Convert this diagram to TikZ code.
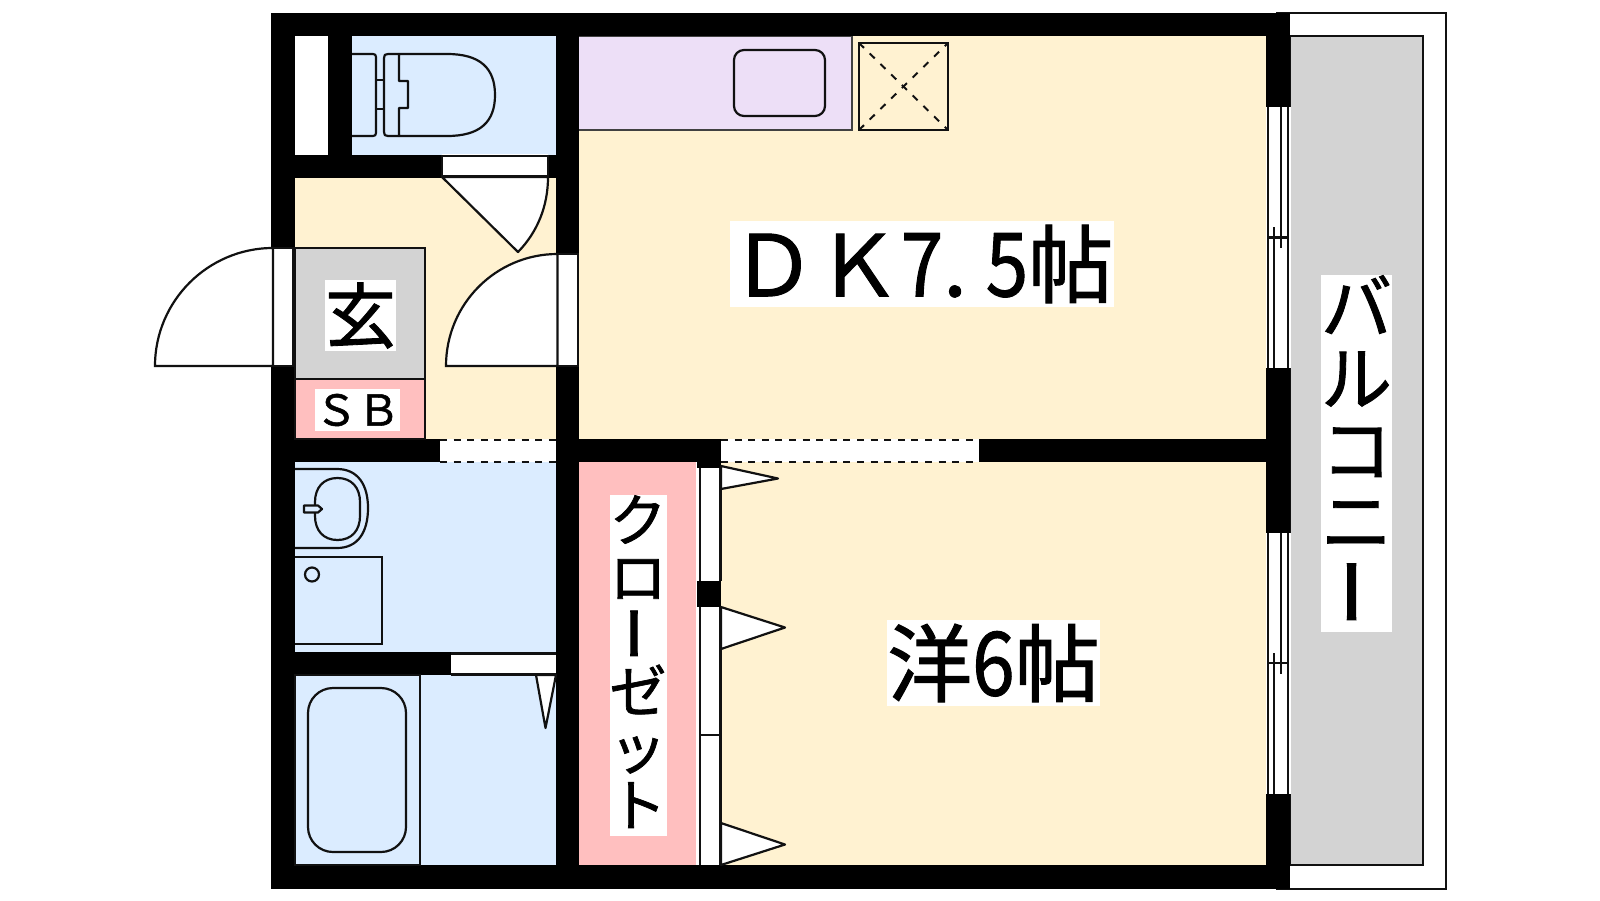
\documentclass[tikz,border=0pt]{standalone}
\usepackage{fontspec}
\usepackage{graphicx}
\newfontfamily\cjk[FakeBold=1.2]{Noto Sans CJK JP}
\newcommand{\vl}[1]{\rule[-.12em]{0pt}{.88em}\smash{#1}}
\newcommand{\vbar}{\kern.28em\raisebox{.115em}{\rotatebox[origin=c]{90}{\scalebox{1}[1.25]{ー}}}}
\newcommand{\hwd}[1]{\makebox[.5em]{\scalebox{.9}[1.04]{#1}}}
\definecolor{yel}{HTML}{FFF2D1}
\definecolor{blu}{HTML}{DBECFF}
\definecolor{pur}{HTML}{EDDFF7}
\definecolor{pnk}{HTML}{FFBFBF}
\definecolor{gry}{HTML}{D3D3D3}
\definecolor{ink}{HTML}{111111}
\tikzset{
  wall/.style={fill=black,draw=none},
  room/.style={draw=none},
  fix/.style={draw=ink,line width=2.2pt},
  fixr/.style={draw=ink,line width=2.2pt,line join=round},
  opening/.style={fill=white,draw=none},
  slide/.style={draw=ink,line width=2pt,dash pattern=on 7pt off 6.6pt},
  dlbl/.style={fill=white,inner sep=0pt,text=black,align=center}
}
\begin{document}
\begin{tikzpicture}[x=1pt,y=-1pt]
\useasboundingbox (0,0) rectangle (1600,900);
\fill[white] (0,0) rectangle (1600,900);
% balcony
\draw[draw=ink,line width=2pt,fill=white] (1277,13) rectangle (1446,889);
\draw[draw=ink,line width=2pt,fill=gry] (1290,36) rectangle (1423,865);
% rooms
\fill[blu] (352,36) rectangle (556,155);
\fill[yel] (295,178) rectangle (556,439);
\fill[yel] (579,36) rectangle (1266,439);
\fill[yel] (721,462) rectangle (1266,865);
\fill[blu] (295,462) rectangle (556,652);
\fill[blu] (295,675) rectangle (556,865);
\fill[pnk] (579,462) rectangle (696,865);
% kitchen counter
\fill[pur] (579,36) rectangle (852,130);
\draw[draw=ink!80,line width=1.8pt] (579,36) -- (852,36) -- (852,130) -- (579,130);
% walls
\fill[wall] (271,13) rectangle (1290,36);
\fill[wall] (271,865) rectangle (1290,889);
\fill[wall] (271,13) rectangle (295,889);
\fill[wall] (1266,13) rectangle (1290,889);
\fill[wall] (328,36) rectangle (352,155);
\fill[wall] (295,155) rectangle (556,178);
\fill[wall] (556,13) rectangle (579,889);
\fill[wall] (271,439) rectangle (1290,462);
\fill[wall] (697,462) rectangle (721,468);
\fill[wall] (295,652) rectangle (451,675);
% front door
\fill[opening] (271,248) rectangle (295,366);
\draw[fix,fill=white] (273,248) .. controls (208,248) and (155,301) .. (155,366) -- (273,366) -- cycle;
\draw[fix] (273,248) -- (273,366) (293.5,248) -- (293.5,366) (273,248) -- (295,248) (273,366) -- (295,366);
% genkan and shoe box
\draw[fix,fill=gry] (295,248) rectangle (425,379);
\draw[fix,fill=pnk] (295,379) rectangle (425,439);
% inner door to DK
\fill[opening] (556,254) rectangle (579,365);
\draw[fix,fill=white] (557.5,254) .. controls (496,254) and (446,304) .. (446,366) -- (557.5,366) -- cycle;
\draw[fix] (557.5,254) -- (578,254) -- (578,366) -- (557.5,366);
% toilet door
\fill[opening] (442,153.5) rectangle (548,177);
\draw[fix] (442,156) rectangle (548,176.5);
\draw[fixr,fill=white] (442,177) -- (518,252) .. controls (537.5,232) and (548,206) .. (548,177) -- cycle;
% hall sliding gap
\fill[opening] (440,439) rectangle (556,462);
\draw[slide] (440,439.5) -- (556,439.5) (440,461.5) -- (556,461.5);
% DK / bedroom sliding gap
\fill[opening] (721,439) rectangle (979,462);
\draw[slide] (721,439.5) -- (979,439.5) (721,461.5) -- (979,461.5);
% closet doors
\fill[opening] (697,468) rectangle (721,865);
\fill[wall] (697,581) rectangle (721,607);
\draw[fix] (700,468) -- (700,581) (720.5,468) -- (720.5,581);
\draw[fix] (700,607) -- (700,865) (720.5,607) -- (720.5,865) (700,735) -- (720.5,735);
\draw[fixr,fill=white] (721,466) -- (778,478.5) -- (721,489) -- cycle;
\draw[fixr,fill=white] (721,607) -- (785,627.5) -- (721,649) -- cycle;
\draw[fixr,fill=white] (721,823) -- (785,844.5) -- (721,865) -- cycle;
% bath door
\fill[opening] (451,653) rectangle (556,675);
\draw[fix] (451,653.5) -- (556,653.5) (451,674.5) -- (556,674.5);
\draw[fixr,fill=white] (536,675) -- (545.5,728) -- (556,675) -- cycle;
% toilet
\draw[fixr] (352,54) -- (373,54) .. controls (375,54) and (376,55) .. (376,57) -- (376,133) .. controls (376,135) and (375,136) .. (373,136) -- (352,136);
\draw[fix] (376,80) -- (384,80) (376,109) -- (384,109);
\draw[fixr] (399,54) -- (447,54) .. controls (480,54) and (495,68) .. (495,95) .. controls (495,122) and (480,136) .. (447,136) -- (399,136) -- (399,108) -- (408,108) -- (408,81) -- (399,81) -- cycle;
\draw[fixr] (399,54) -- (388,54) .. controls (385,54) and (384,55) .. (384,58) -- (384,132) .. controls (384,135) and (385,136) .. (388,136) -- (399,136);
% kitchen sink and vent
\draw[fix,rounded corners=10pt] (734,50) rectangle (825,116);
\draw[draw=ink,line width=2.6pt] (859,43) rectangle (948,130);
\draw[draw=ink,line width=2pt,dash pattern=on 7pt off 8pt] (859,43) -- (948,130);
\draw[draw=ink,line width=2pt,dash pattern=on 7pt off 8pt] (859,130) -- (948,43);
% wash basin
\draw[fixr] (295,469) -- (337,469) .. controls (358,469) and (368,485) .. (368,508) .. controls (368,532) and (358,548) .. (337,548) -- (295,548);
\draw[fixr] (337.5,478) .. controls (352,478) and (360,488) .. (360,502) -- (360,516) .. controls (360,530) and (352,540) .. (337.5,540) .. controls (323,540) and (315,530) .. (315,516) -- (315,502) .. controls (315,488) and (323,478) .. (337.5,478) -- cycle;
\draw[fixr,fill=blu] (304,505.5) -- (318,505.5) -- (322,509) -- (318,512.5) -- (304,512.5) -- cycle;
% washing machine
\draw[fix] (295,557) -- (382,557) -- (382,644) -- (295,644);
\draw[fix] (312,574.5) circle[radius=7];
% bath
\draw[fix] (295,675) rectangle (420,865);
\draw[fix,rounded corners=25pt] (308,688) rectangle (406,852);
% windows
\fill[opening] (1266,107) rectangle (1291,368);
\draw[fix] (1268,107) -- (1268,368) (1288,107) -- (1288,368) (1268,237.5) -- (1288,237.5) (1274,227) -- (1274,368) (1281,107) -- (1281,248);
\fill[opening] (1266,533) rectangle (1291,794);
\draw[fix] (1268,533) -- (1268,794) (1288,533) -- (1288,794) (1268,663) -- (1288,663) (1274,653) -- (1274,794) (1281,533) -- (1281,674);
% labels
\node[dlbl,minimum width=384pt,minimum height=86pt,font=\fontsize{85}{85}\selectfont\cjk] (dk) at (922,264) {ＤＫ\hwd{7}\makebox[.5em][l]{.}\hwd{5}帖};
\node[dlbl,minimum width=213pt,minimum height=86pt,font=\fontsize{85}{85}\selectfont\cjk] (you) at (993.5,663) {洋\hwd{6}帖};
\node[dlbl,minimum width=71pt,minimum height=71pt,font=\fontsize{71}{71}\selectfont\cjk] (gen) at (360.5,315.5) {玄};
\node[dlbl,minimum width=85pt,minimum height=42pt,font=\fontsize{42.5}{42.5}\selectfont\cjk] (sb) at (357.5,410) {ＳＢ};
\node[dlbl,minimum width=56pt,minimum height=341pt,font=\fontsize{57}{57}\selectfont\cjk] (clo) at (638,665.5) {\vl{ク}\\\vl{ロ}\\\vl{\vbar}\\\vl{ゼ}\\\vl{ッ}\\\vl{ト}};
\node[dlbl,minimum width=71pt,minimum height=357pt,font=\fontsize{71}{71.4}\selectfont\cjk] (bal) at (1356.5,453.5) {\vl{バ}\\\vl{ル}\\\vl{コ}\\\vl{ニ}\\\vl{\vbar}};
\end{tikzpicture}
\end{document}
